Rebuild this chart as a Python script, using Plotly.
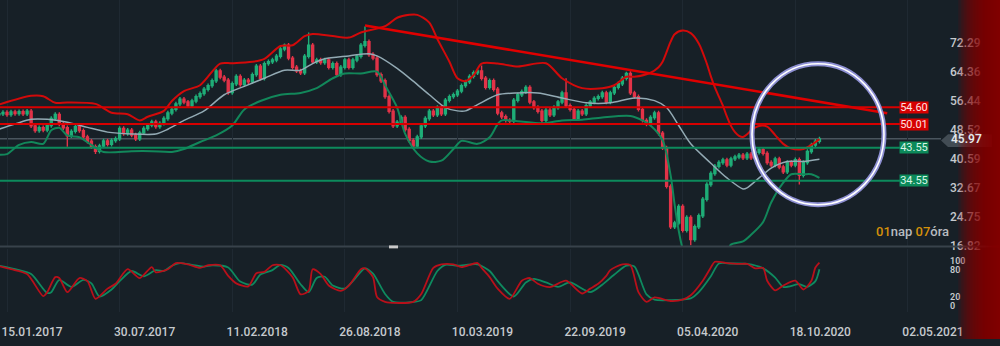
import pandas as pd
import plotly.graph_objects as go

# ---------------- data ----------------
start_date = "2017-01-01"  # first weekly candle
closes = [
    52.8, 53.2, 52.6, 53.3, 52.9, 53.4, 52.8, 53.5, 49.5, 48.2,
    49.0, 48.4, 49.6, 51.5, 52.6, 50.0, 49.0, 46.8, 48.0, 49.3,
    48.2, 46.5, 45.3, 43.8, 42.6, 44.0, 45.4, 44.5, 45.5, 46.0,
    48.8, 47.4, 48.3, 47.0, 46.0, 47.6, 48.8, 49.7, 50.6, 49.3,
    50.2, 51.5, 53.0, 54.0, 55.5, 56.8, 56.0, 55.0, 56.3, 57.5,
    58.3, 59.5, 60.5, 61.8, 64.5, 62.8, 62.0, 58.6, 61.0, 63.0,
    60.8, 62.0, 61.5, 63.5, 65.8, 62.5, 66.5, 67.0, 67.5, 68.5,
    70.5, 71.5, 68.0, 65.5, 64.5, 64.0, 68.5, 71.5, 67.0, 67.5,
    66.8, 67.5, 65.5, 66.5, 63.5, 65.5, 67.5, 65.5, 67.5, 68.5,
    71.5, 72.5, 69.0, 68.0, 63.5, 61.8, 57.5, 53.5, 49.5, 50.5,
    51.8, 48.5, 45.5, 44.0, 46.5, 49.5, 51.5, 53.5, 52.5, 54.5,
    52.8, 56.5, 57.5, 58.0, 59.0, 60.5, 61.5, 63.0, 64.0, 64.5,
    62.5, 60.0, 61.8, 59.5, 53.0, 52.0, 51.0, 50.8, 56.5, 58.0,
    58.8, 60.0, 56.0, 54.5, 53.5, 51.0, 53.8, 52.5, 54.5, 56.0,
    58.5, 55.0, 54.0, 51.5, 53.5, 52.8, 55.0, 56.0, 57.0, 57.5,
    58.5, 56.0, 58.5, 60.0, 61.0, 62.5, 63.8, 58.5, 57.5, 54.0,
    51.0, 50.0, 51.8, 53.0, 47.5, 43.5, 33.0, 22.0, 23.0, 27.5,
    21.0, 24.5, 18.5, 22.0, 25.0, 29.5, 33.5, 36.5, 38.5, 39.5,
    40.2, 38.8, 40.5, 41.0, 41.5, 40.8, 41.8, 40.8, 42.3, 43.0,
    42.0, 39.5, 38.8, 40.5, 38.3, 37.0, 39.5, 38.8, 40.3, 36.0,
    39.5, 42.5, 44.3, 45.3, 45.97,
]
first_open = 52.5
high_wicks = {71: 72.0, 77: 75.0, 91: 76.6, 120: 66.0, 141: 62.5, 156: 64.3}
low_wicks = {17: 43.8, 24: 41.8, 103: 43.2, 172: 16.9, 199: 33.5}

# Bollinger bands (candle index, value)
upper_idx = [0, 8, 11, 14, 17, 24, 28, 32, 35, 37, 41, 43, 46, 50, 55, 58, 63, 66, 70, 73, 76, 78, 83, 87,
             90, 96, 99, 102, 104, 107, 109, 112, 114, 116, 118, 120, 124, 129, 136, 140, 145, 150, 153, 156,
             158, 162, 164, 165, 167, 168, 170, 172, 174, 176, 177, 178, 179, 180, 181, 182, 183, 184, 185,
             186, 187, 189, 191, 193, 195, 197, 200, 202, 204]
upper_val = [55.3, 57.7, 57.6, 55.8, 55.9, 55.5, 53.1, 52.7, 51.0, 52.0, 53.6, 56.3, 59.0, 60.6, 66.5, 66.6,
             67.0, 67.8, 71.3, 71.5, 74.0, 74.6, 74.0, 73.6, 75.0, 76.7, 79.0, 79.8, 79.8, 77.7, 73.2, 67.0,
             62.5, 61.7, 63.3, 66.5, 66.5, 65.7, 66.6, 62.5, 59.8, 59.8, 60.6, 62.9, 62.9, 64.0, 65.5, 67.0,
             72.5, 74.5, 75.5, 74.8, 72.0, 66.5, 63.0, 60.0, 57.5, 55.0, 52.0, 49.5, 47.8, 46.8, 46.5, 47.2,
             48.3, 49.5, 49.3, 47.0, 44.6, 43.3, 43.2, 44.3, 45.9]
mid_idx = [0, 4, 8, 12, 17, 22, 27, 33, 39, 42, 46, 51, 56, 61, 66, 71, 75, 78, 81, 87, 92, 94, 99, 103,
           107, 111, 114, 116, 119, 124, 129, 134, 140, 146, 152, 158, 163, 166, 169, 172, 177, 181, 185,
           186, 189, 192, 196, 200, 204]
mid_val = [48.6, 50.0, 51.3, 51.3, 50.5, 49.1, 47.8, 47.3, 47.3, 48.6, 51.0, 53.6, 58.0, 60.3, 62.5, 64.7,
           64.7, 66.5, 67.8, 68.6, 69.2, 68.6, 65.2, 61.7, 58.0, 54.5, 53.6, 53.6, 55.3, 58.0, 58.5, 58.5,
           57.1, 55.8, 55.8, 57.1, 56.4, 54.5, 49.6, 44.6, 39.3, 35.3, 32.3, 32.6, 35.3, 38.0, 39.8, 39.8, 40.4]
lower_idx = [0, 2, 5, 8, 11, 13, 15, 17, 20, 23, 26, 33, 38, 43, 46, 50, 54, 58, 61, 65, 70, 75, 79, 83,
             86, 90, 94, 96, 99, 101, 104, 107, 110, 113, 115, 119, 122, 124, 125, 129, 135, 140, 145, 150,
             157, 160, 162, 165, 167, 168, 169, 170, 172, 175, 178, 181, 182, 185, 187, 190, 192, 195, 197,
             200, 202, 204]
lower_val = [41.6, 41.8, 44.3, 45.1, 44.6, 48.3, 49.0, 46.9, 46.4, 44.3, 42.4, 42.6, 42.6, 42.4, 43.2, 45.1,
             46.9, 49.6, 54.0, 56.3, 58.0, 58.5, 59.8, 62.5, 63.8, 63.8, 64.3, 60.6, 54.5, 47.3, 42.0, 39.8,
             40.0, 43.2, 45.4, 44.6, 46.4, 50.0, 51.0, 50.8, 50.2, 51.0, 51.2, 51.8, 52.2, 51.0, 49.6, 45.6,
             36.0, 28.0, 21.0, 16.0, 11.0, 9.0, 11.0, 15.0, 17.1, 18.0, 19.8, 23.3, 28.6, 34.0, 36.3, 36.3,
             36.3, 35.3]

# Stochastic oscillator (candle index, value)
stk_idx = [0, 3, 7, 11, 12, 14, 15, 17, 20, 22, 24, 27, 29, 32, 35, 38, 39, 42, 44, 47, 50, 52, 55, 57, 59,
           62, 64, 66, 68, 70, 73, 75, 77, 78, 80, 82, 85, 87, 90, 91, 93, 94, 96, 99, 103, 105, 108, 110,
           113, 115, 119, 120, 122, 124, 127, 130, 132, 134, 137, 141, 145, 147, 149, 151, 152, 155, 157,
           159, 161, 163, 167, 170, 172, 175, 177, 178, 181, 184, 186, 188, 190, 191, 193, 195, 198, 200,
           202, 203, 204]
stk_val = [89, 82, 71, 21, 30, 64, 62, 30, 62, 55, 15, 38, 49, 82, 62, 87, 75, 82, 96, 93, 85, 91, 91, 67, 50,
           43, 73, 76, 91, 91, 64, 25, 33, 82, 71, 45, 33, 45, 82, 84, 64, 19, 8, 5.5, 8, 26, 85, 93, 93, 87,
           96, 85, 64, 38, 15, 56, 62, 49, 41.5, 56, 27, 38, 49, 67, 80, 93, 91, 30, 8, 18, 10, 13, 23, 56,
           86, 99, 96, 94, 94, 84, 85, 56, 34, 45, 56, 36, 56, 86, 97]
std_idx = [0, 4, 8, 12, 13, 15, 18, 21, 23, 25, 28, 30, 33, 36, 39, 41, 43, 45, 48, 51, 53, 57, 60, 63, 65,
           68, 70, 72, 75, 77, 79, 81, 83, 86, 88, 91, 93, 96, 98, 103, 105, 109, 111, 114, 119, 122, 124,
           128, 131, 133, 136, 139, 142, 147, 150, 153, 156, 158, 161, 163, 167, 172, 174, 177, 179, 182,
           186, 190, 193, 195, 199, 201, 203, 204]
std_val = [90, 82, 71, 28, 30, 58, 42, 58, 50, 20, 36, 55, 78, 66, 80, 78, 90, 96, 92, 88, 91, 86, 54, 47, 70,
           80, 92, 85, 48, 30, 62, 65, 45, 38, 55, 84, 72, 26, 8, 8, 12, 78, 92, 90, 93, 78, 55, 20, 52, 60,
           52, 42, 52, 30, 47, 70, 90, 88, 25, 13, 12, 16, 30, 66, 95, 95, 94, 84, 63, 42, 48, 42, 55, 82]

price_ticks = [72.29, 64.36, 56.44, 48.52, 40.59, 32.67, 24.75, 16.82]
stoch_ticks = [0, 20, 80, 100]
date_ticks = ["2017-01-15", "2017-07-30", "2018-02-11", "2018-08-26", "2019-03-10",
              "2019-09-22", "2020-04-05", "2020-10-18", "2021-05-02"]
resistance = [54.60, 50.01]
support = [43.55, 34.55]
last_price = 45.97
trend_dates = ["2018-09-30", "2021-03-27"]
trend_vals = [76.9, 52.96]
timer_text = ["01", "nap ", "07", "óra"]

# ---------------- build ----------------
W, H = 1000, 346
def fx(p):
    return p / W
def fy(p):
    return 1 - p / H

dates = pd.date_range(start_date, periods=len(closes), freq="7D")
opens = [first_open] + closes[:-1]
highs = [high_wicks.get(i, max(o, c) + 0.6) for i, (o, c) in enumerate(zip(opens, closes))]
lows = [low_wicks.get(i, min(o, c) - 0.6) for i, (o, c) in enumerate(zip(opens, closes))]

px_per_week = 4.022
t0 = pd.Timestamp(date_ticks[0]) - pd.Timedelta(days=7 * 7 / px_per_week)
t1 = t0 + pd.Timedelta(days=7 * W / px_per_week)

BG = "#172027"
GREEN = "#1fae78"
RED = "#e23348"
LBL = "#c6cace"

fig = go.Figure()
fig.add_trace(go.Candlestick(
    x=dates, open=opens, high=highs, low=lows, close=closes,
    increasing=dict(line=dict(color=GREEN, width=1.4), fillcolor=GREEN),
    decreasing=dict(line=dict(color=RED, width=1.4), fillcolor=RED),
    whiskerwidth=0, xaxis="x", yaxis="y", showlegend=False, hoverinfo="skip"))

def band(idx, val, color, width):
    fig.add_trace(go.Scatter(x=[dates[i] for i in idx], y=val, mode="lines",
                             line=dict(color=color, width=width, shape="spline", smoothing=0.8),
                             xaxis="x", yaxis="y", showlegend=False, hoverinfo="skip"))

band(mid_idx, mid_val, "#93aab4", 1.5)
band(lower_idx, lower_val, "#12875a", 2)
band(upper_idx, upper_val, "#d20a0a", 2)

fig.add_trace(go.Scatter(x=[dates[i] for i in std_idx], y=std_val, mode="lines",
                         line=dict(color="#0e8a5f", width=1.8, shape="spline", smoothing=0.7),
                         xaxis="x2", yaxis="y2", showlegend=False, hoverinfo="skip"))
fig.add_trace(go.Scatter(x=[dates[i] for i in stk_idx], y=stk_val, mode="lines",
                         line=dict(color="#b8101a", width=1.8, shape="spline", smoothing=0.7),
                         xaxis="x2", yaxis="y2", showlegend=False, hoverinfo="skip"))
# trend line
fig.add_trace(go.Scatter(x=trend_dates, y=trend_vals, mode="lines",
                         line=dict(color="#e00000", width=2.6),
                         xaxis="x", yaxis="y", showlegend=False, hoverinfo="skip"))

shapes = []
# current price line
shapes.append(dict(type="line", xref="paper", yref="y", x0=0, x1=fx(941), y0=last_price, y1=last_price,
                   line=dict(color="#4a555e", width=1.5), layer="below"))
for lv in resistance:
    shapes.append(dict(type="line", xref="paper", yref="y", x0=0, x1=fx(915), y0=lv, y1=lv,
                       line=dict(color="#d80000", width=2)))
for lv in support:
    shapes.append(dict(type="line", xref="paper", yref="y", x0=0, x1=fx(915), y0=lv, y1=lv,
                       line=dict(color="#0d8a5c", width=2)))
# panel divider and handle
shapes.append(dict(type="line", xref="paper", yref="paper", x0=0, x1=1, y0=fy(251.5), y1=fy(251.5),
                   line=dict(color="#38424b", width=2)))
shapes.append(dict(type="rect", xref="paper", yref="paper", x0=fx(389), x1=fx(398), y0=fy(253.5), y1=fy(250.5),
                   fillcolor="#c9c9c9", line=dict(width=0)))
# circle highlight
cx0, cx1, cy0, cy1 = fx(752), fx(884), fy(209), fy(65)
shapes.append(dict(type="circle", xref="paper", yref="paper", x0=cx0, x1=cx1, y0=cy0, y1=cy1,
                   line=dict(color="#8d8fd2", width=5), layer="above"))
shapes.append(dict(type="circle", xref="paper", yref="paper", x0=cx0, x1=cx1, y0=cy0, y1=cy1,
                   line=dict(color="#ffffff", width=1.6), layer="above"))
# last price tag
tag = (f"M {fx(941)},{fy(143.5)} L {fx(948)},{fy(137)} L {fx(992)},{fy(137)} "
       f"L {fx(992)},{fy(150)} L {fx(948)},{fy(150)} Z")
shapes.append(dict(type="path", xref="paper", yref="paper", path=tag,
                   fillcolor="rgba(120,130,140,0.45)", line=dict(width=0), layer="above"))
# red gradient overlay on the right edge
for k in range(28):
    x0 = 958 + 1.5 * k
    shapes.append(dict(type="rect", xref="paper", yref="paper", x0=fx(x0), x1=1, y0=0, y1=1,
                       fillcolor="rgba(140,0,0,0.10)", line=dict(width=0), layer="above"))

annotations = []
for lv in resistance:
    annotations.append(dict(xref="paper", yref="y", x=fx(929), y=lv, text=f"{lv:.2f}", showarrow=False,
                            bgcolor="#d60000", font=dict(family="Roboto", size=11, color="#ffe0e0"),
                            width=28, height=11, borderpad=0))
for lv in support:
    annotations.append(dict(xref="paper", yref="y", x=fx(929), y=lv, text=f"{lv:.2f}", showarrow=False,
                            bgcolor="#0c8a5a", font=dict(family="Roboto", size=11, color="#d8f5e6"),
                            width=28, height=11, borderpad=0))
annotations.append(dict(xref="paper", yref="y", x=fx(949), y=last_price, xanchor="left",
                        text=f"{last_price:.2f}", showarrow=False,
                        font=dict(family="Roboto", size=12, color="#e4e7ea", weight=600)))
orange = "#d4900a"
annotations.append(dict(xref="paper", yref="paper", x=fx(874), y=fy(236), xanchor="left", yanchor="middle",
                        text=(f"<span style='color:{orange}'>{timer_text[0]}</span>{timer_text[1]}"
                              f"<span style='color:{orange}'>{timer_text[2]}</span>{timer_text[3]}"),
                        showarrow=False, font=dict(family="Roboto", size=13, color="#b8bcc0", weight=500)))

fig.update_layout(
    width=W, height=H, margin=dict(l=0, r=0, t=0, b=0),
    paper_bgcolor=BG, plot_bgcolor=BG, showlegend=False,
    shapes=shapes, annotations=annotations,
    xaxis=dict(domain=[0, 1], anchor="y", range=[t0, t1], rangeslider=dict(visible=False),
               showticklabels=False, tickvals=date_ticks, showgrid=True, gridcolor="#1f2932",
               gridwidth=1, zeroline=False, showline=False, ticks=""),
    yaxis=dict(domain=[fy(251), 1], range=[16.75, 72.29 + 43.3 / 3.745], anchor="free", position=fx(949),
               side="right", tickvals=price_ticks, ticktext=[f"{v:.2f}" for v in price_ticks],
               tickfont=dict(family="Roboto", size=12, color=LBL, weight=500),
               showgrid=False, zeroline=False, showline=False, ticks="", fixedrange=True),
    xaxis2=dict(domain=[0, 1], anchor="y2", matches="x", range=[t0, t1], tickvals=date_ticks,
                tickformat="%d.%m.%Y", ticklabelshift=25, ticklabelstandoff=11, showgrid=True,
                gridcolor="#1f2932",
                tickfont=dict(family="Roboto", size=12, color=LBL, weight=500),
                zeroline=False, showline=False, ticks=""),
    yaxis2=dict(domain=[fy(318), fy(254)], range=[-14, 128.2], anchor="free", position=fx(949),
                side="right", tickvals=stoch_ticks, tickfont=dict(family="Roboto", size=9, color=LBL, weight=600),
                showgrid=False, zeroline=False, showline=False, ticks=""),
)

fig.write_html("out.html")
